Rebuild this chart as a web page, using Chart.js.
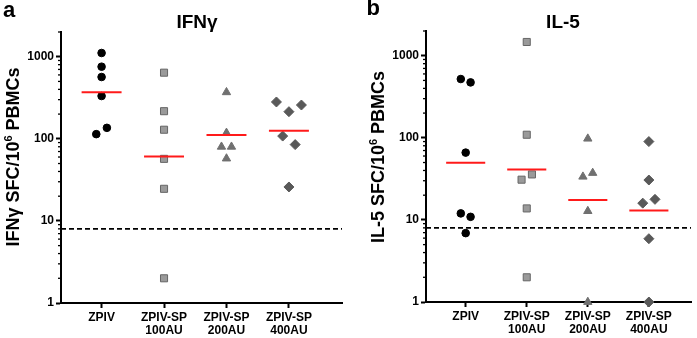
<!DOCTYPE html>
<html>
<head>
<meta charset="utf-8">
<script src="https://cdn.jsdelivr.net/npm/chart.js@4/dist/chart.umd.min.js"></script>
<style>
  body { margin: 0; background: #fff; }
  .panel { position: absolute; top: 0; height: 338px; }
</style>
</head>
<body>
<div class="panel" style="left:0;width:348px"><canvas id="chart-a" width="348" height="338"></canvas></div>
<div class="panel" style="left:348px;width:349px"><canvas id="chart-b" width="349" height="338"></canvas></div>
<script>
// groups on the x axis
const groupLabels = [["ZPIV"], ["ZPIV-SP", "100AU"], ["ZPIV-SP", "200AU"], ["ZPIV-SP", "400AU"]];
const yTicks = [1, 10, 100, 1000];
const detectionLimit = 8;

// IFNγ, spots per 10^6 PBMCs (offsets = horizontal jitter in group units)
const ifnZpiv = [1110, 756, 566, 332, 136, 114];
const ifnZpivOffset = [0, 0, 0, 0, 0.085, -0.085];
const ifn100 = [639, 217, 129, 57, 24.6, 2];
const ifn100Offset = [0, 0, 0, 0, 0, 0];
const ifn200 = [369, 118, 80, 80, 57.5];
const ifn200Offset = [0, 0, -0.08, 0.08, 0];
const ifn400 = [281, 258, 214, 108, 85, 25.9];
const ifn400Offset = [-0.2, 0.2, 0, -0.1, 0.1, 0];
const ifnMedians = [369, 61, 111, 125];

// IL-5
const il5Zpiv = [520, 473, 66, 12, 10.9, 6.9];
const il5ZpivOffset = [-0.08, 0.08, 0, -0.08, 0.08, 0];
const il5100 = [1470, 109, 35.8, 30.9, 13.8, 2];
const il5100Offset = [0, 0, 0.085, -0.085, 0, 0];
const il5200 = [97.6, 37.3, 33.6, 12.8, 1];
const il5200Offset = [0, 0.08, -0.08, 0, 0];
const il5400 = [90, 30.6, 17.8, 16, 5.9, 1];
const il5400Offset = [0, 0, 0.1, -0.1, 0, 0];
const il5Medians = [49.7, 41.2, 17.5, 13];

const FONT = '"Liberation Sans", Arial, sans-serif';

const markerStyles = [
  { pointStyle: "circle", radius: 3.8, fill: "#000", border: "#000" },
  { pointStyle: "rect", radius: 5, fill: "#9a9a9a", border: "#666" },
  { pointStyle: "triangle", radius: 4.8, fill: "#707070", border: "#707070" },
  { pointStyle: "rectRot", radius: 5, fill: "#595959", border: "#595959" },
];

function buildDatasets(groups, offsets, medians, xMin, xMax) {
  const sets = [];
  groups.forEach((values, i) => {
    const s = markerStyles[i];
    sets.push({
      type: "scatter",
      data: values.map((v, j) => ({ x: i + 1 + offsets[i][j], y: v })),
      pointStyle: s.pointStyle,
      pointRadius: s.radius,
      backgroundColor: s.fill,
      borderColor: s.border,
      borderWidth: 1,
      clip: false,
      order: 1,
    });
  });
  medians.forEach((m, i) => {
    sets.push({
      type: "line",
      data: [{ x: i + 1 - 0.32, y: m }, { x: i + 1 + 0.32, y: m }],
      borderColor: "#ff1a1a",
      borderWidth: 2,
      pointRadius: 0,
      order: 0,
    });
  });
  sets.push({
    type: "line",
    data: [{ x: xMin, y: detectionLimit }, { x: xMax, y: detectionLimit }],
    borderColor: "#000",
    borderWidth: 1.8,
    borderDash: [5, 3],
    pointRadius: 0,
    order: 2,
  });
  return sets;
}

const decorPlugin = {
  id: "decor",
  afterDraw(chart, args, opts) {
    const ctx = chart.ctx;
    const y = chart.scales.y;
    const area = chart.chartArea;
    ctx.save();
    // minor ticks on the log axis
    ctx.strokeStyle = "#000";
    ctx.lineWidth = 1.3;
    yTicks.forEach((t) => {
      for (let k = 2; k <= 9; k++) {
        const v = t * k;
        if (v > y.max) break;
        const py = y.getPixelForValue(v);
        ctx.beginPath();
        ctx.moveTo(area.left - 3, py);
        ctx.lineTo(area.left, py);
        ctx.stroke();
      }
    });
    ctx.fillStyle = "#000";
    // panel letter
    ctx.font = "bold 22px " + FONT;
    ctx.textAlign = "left";
    ctx.textBaseline = "alphabetic";
    ctx.fillText(opts.letter, opts.letterX, opts.letterY);
    // title
    ctx.font = "bold 19px " + FONT;
    ctx.textAlign = "center";
    ctx.fillText(opts.title, opts.titleX, 28);
    // rotated y label with superscript
    ctx.translate(opts.labelX, 157);
    ctx.rotate(-Math.PI / 2);
    ctx.textAlign = "left";
    const big = "bold 18px " + FONT, small = "bold 11px " + FONT;
    ctx.font = big;
    const w1 = ctx.measureText(opts.labelA).width;
    const w3 = ctx.measureText(opts.labelC).width;
    ctx.font = small;
    const w2 = ctx.measureText("6").width;
    let x = -(w1 + w2 + w3) / 2;
    ctx.font = big;
    ctx.fillText(opts.labelA, x, 0);
    x += w1;
    ctx.font = small;
    ctx.fillText("6", x, -7);
    x += w2;
    ctx.font = big;
    ctx.fillText(opts.labelC, x, 0);
    ctx.restore();
  },
};

function makeChart(canvasId, datasets, cfg) {
  return new Chart(document.getElementById(canvasId), {
    data: { datasets },
    plugins: [decorPlugin],
    options: {
      responsive: false,
      animation: false,
      devicePixelRatio: 1,
      layout: { padding: { left: 0, right: cfg.padRight, top: cfg.padTop, bottom: 0 } },
      plugins: {
        legend: { display: false },
        tooltip: { enabled: false },
        decor: cfg.decor,
      },
      scales: {
        x: {
          type: "linear",
          min: cfg.xMin,
          max: cfg.xMax,
          afterBuildTicks: (scale) => {
            scale.ticks = groupLabels.map((l, i) => ({ value: i + 1 }));
          },
          afterFit: (scale) => { scale.height = cfg.xHeight; },
          ticks: {
            autoSkip: false,
            maxRotation: 0,
            padding: 3,
            color: "#000",
            font: { family: FONT, size: 12, weight: "bold", lineHeight: 1.1 },
            callback: (v) => groupLabels[v - 1],
          },
          grid: { drawOnChartArea: false, tickLength: 5, tickWidth: 2, tickColor: "#000" },
          border: { color: "#000", width: 2 },
        },
        y: {
          type: "logarithmic",
          min: 1,
          max: 2000,
          afterBuildTicks: (scale) => {
            scale.ticks = yTicks.map((v) => ({ value: v, major: true }));
          },
          afterFit: (scale) => { scale.width = cfg.yWidth; },
          ticks: {
            padding: 2,
            color: "#000",
            font: { family: FONT, size: 12, weight: "bold" },
            callback: (v) => String(v),
          },
          grid: { drawOnChartArea: false, tickLength: 5, tickWidth: 2, tickColor: "#000" },
          border: { color: "#000", width: 2 },
        },
      },
    },
  });
}

const aX = [0.35, 4.85];
makeChart("chart-a",
  buildDatasets([ifnZpiv, ifn100, ifn200, ifn400],
    [ifnZpivOffset, ifn100Offset, ifn200Offset, ifn400Offset], ifnMedians, aX[0], aX[1]),
  {
    xMin: aX[0], xMax: aX[1], padRight: 5, padTop: 32, xHeight: 35, yWidth: 61,
    decor: { letter: "a", letterX: 3, letterY: 16.5, title: "IFNγ", titleX: 197,
      labelX: 18.5, labelA: "IFNγ SFC/10", labelC: " PBMCs" },
  });

const bX = [0.35, 4.69];
makeChart("chart-b",
  buildDatasets([il5Zpiv, il5100, il5200, il5400],
    [il5ZpivOffset, il5100Offset, il5200Offset, il5400Offset], il5Medians, bX[0], bX[1]),
  {
    xMin: bX[0], xMax: bX[1], padRight: 0, padTop: 31, xHeight: 36, yWidth: 78,
    decor: { letter: "b", letterX: 18.5, letterY: 15, title: "IL-5", titleX: 215,
      labelX: 35.5, labelA: "IL-5 SFC/10", labelC: " PBMCs" },
  });
</script>
</body>
</html>
